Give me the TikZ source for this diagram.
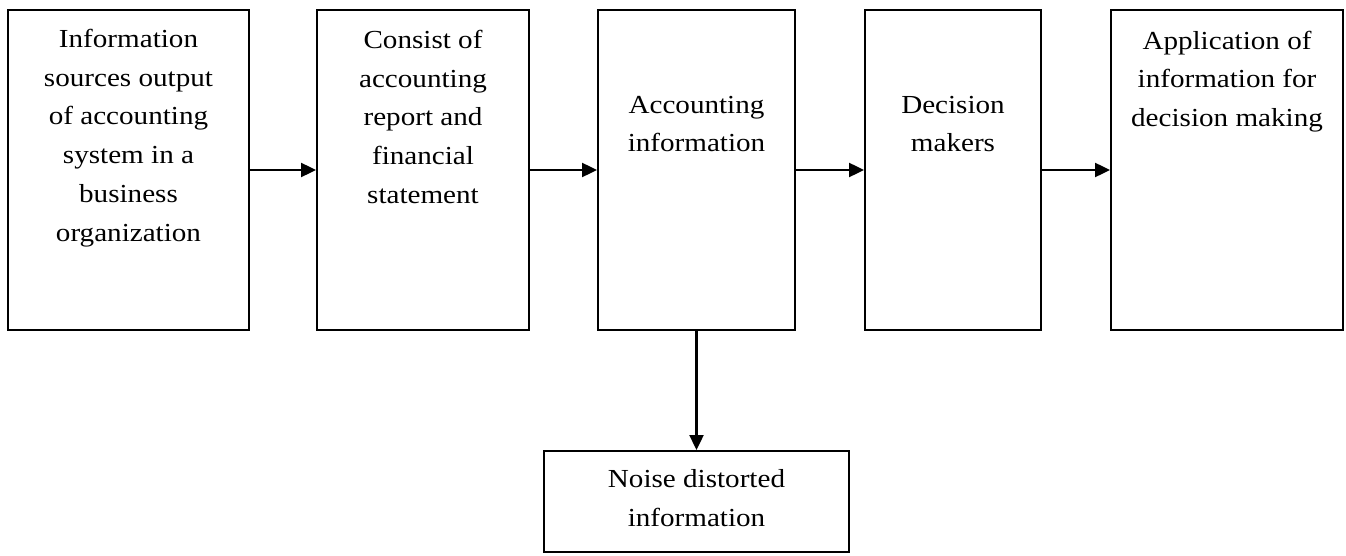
\documentclass[tikz,border=0pt]{standalone}
\usepackage{fontspec}
\setmainfont[FakeStretch=1.12]{Liberation Serif}
\usetikzlibrary{arrows.meta}
\begin{document}
\begin{tikzpicture}[x=1pt,y=-1pt,
  box/.style={draw, line width=2pt, rectangle, inner sep=0pt, minimum height=320pt},
  lbl/.style={anchor=north, align=center, inner sep=0pt, font=\fontsize{26}{38.8}\selectfont},
  arr/.style={line width=2.4pt, -{Triangle[length=15pt,width=14pt]}}]
\useasboundingbox (0,0) rectangle (1346,556);
\node[box, minimum width=241pt] (b1) at (128.5,170) {};
\node[box, minimum width=212pt] (b2) at (423,170) {};
\node[box, minimum width=197pt] (b3) at (696.5,170) {};
\node[box, minimum width=176pt] (b4) at (953,170) {};
\node[box, minimum width=232pt] (b5) at (1227,170) {};
\node[box, minimum width=305pt, minimum height=101pt] (n) at (696.5,501.5) {};
\node[lbl] (t1) at (128.5,27) {\rule{0pt}{20pt}Information\\sources output\\of accounting\\system in a\\business\\organization};
\node[lbl] (t2) at (423,28) {\rule{0pt}{20pt}Consist of\\accounting\\report and\\financial\\statement};
\node[lbl] (t3) at (696.5,93) {\rule{0pt}{20pt}Accounting\\information};
\node[lbl] (t4) at (953,93) {\rule{0pt}{20pt}Decision\\makers};
\node[lbl] (t5) at (1227,29) {\rule{0pt}{20pt}Application of\\information for\\decision making};
\node[lbl] (tn) at (696.5,467) {\rule{0pt}{20pt}Noise distorted\\information};
\draw[arr] (b1.east) -- (b2.west);
\draw[arr] (b2.east) -- (b3.west);
\draw[arr] (b3.east) -- (b4.west);
\draw[arr] (b4.east) -- (b5.west);
\draw[arr] (b3.south) -- (n.north);
\end{tikzpicture}
\end{document}
